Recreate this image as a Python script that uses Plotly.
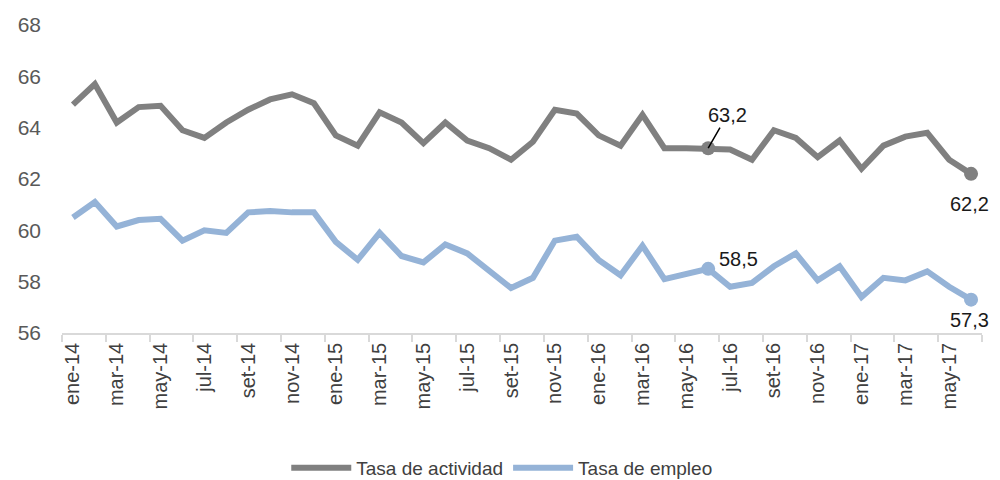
import plotly.graph_objects as go

months = ["ene", "feb", "mar", "abr", "may", "jun", "jul", "ago", "set", "oct", "nov", "dic"]
years = ["14", "15", "16", "17"]
categories = [f"{m}-{y}" for y in years for m in months][:42]

tasa_actividad = [64.9, 65.7, 64.2, 64.8, 64.85, 63.9, 63.6, 64.2, 64.7, 65.1, 65.3, 64.95,
                  63.7, 63.3, 64.6, 64.2, 63.4, 64.2, 63.5, 63.2, 62.75, 63.45, 64.7, 64.55,
                  63.7, 63.3, 64.5, 63.2, 63.2, 63.2, 63.15, 62.75, 63.9, 63.6, 62.85, 63.5,
                  62.4, 63.3, 63.65, 63.8, 62.75, 62.2]
tasa_empleo = [60.5, 61.1, 60.15, 60.4, 60.45, 59.6, 60.0, 59.9, 60.7, 60.75, 60.7, 60.7,
               59.55, 58.85, 59.9, 59.0, 58.75, 59.45, 59.1, 58.4, 57.75, 58.15, 59.6, 59.75,
               58.85, 58.25, 59.4, 58.1, 58.3, 58.5, 57.8, 57.95, 58.6, 59.1, 58.05, 58.6,
               57.4, 58.15, 58.05, 58.4, 57.8, 57.3]

gray = "#808080"
blue = "#95B3D7"
idx_mid = 29
idx_end = 41

fig = go.Figure()
fig.add_trace(go.Scatter(x=categories, y=tasa_actividad, mode="lines", name="Tasa de actividad",
                         line=dict(color=gray, width=6)))
fig.add_trace(go.Scatter(x=categories, y=tasa_empleo, mode="lines", name="Tasa de empleo",
                         line=dict(color=blue, width=6)))
fig.add_trace(go.Scatter(x=[categories[idx_mid], categories[idx_end]],
                         y=[tasa_actividad[idx_mid], tasa_actividad[idx_end]],
                         mode="markers", marker=dict(color=gray, size=14), showlegend=False, hoverinfo="skip"))
fig.add_trace(go.Scatter(x=[categories[idx_mid], categories[idx_end]],
                         y=[tasa_empleo[idx_mid], tasa_empleo[idx_end]],
                         mode="markers", marker=dict(color=blue, size=14), showlegend=False, hoverinfo="skip"))

lab_font = dict(family="Liberation Sans", size=20, color="#1a1a1a")
fig.add_annotation(x=categories[idx_mid], y=tasa_actividad[idx_mid], text="63,2",
                   showarrow=True, arrowhead=0, arrowwidth=1.5, arrowcolor="#000000",
                   ax=19, ay=-33, standoff=0, font=lab_font)
fig.add_annotation(x=categories[idx_end], y=tasa_actividad[idx_end], text="62,2",
                   showarrow=False, yshift=-30, xshift=-2, font=lab_font)
fig.add_annotation(x=categories[idx_mid], y=tasa_empleo[idx_mid], text="58,5",
                   showarrow=False, xshift=30, yshift=10, font=lab_font)
fig.add_annotation(x=categories[idx_end], y=tasa_empleo[idx_end], text="57,3",
                   showarrow=False, yshift=-20, xshift=-2, font=lab_font)

fig.update_layout(
    width=1000, height=480,
    margin=dict(l=54, r=26, t=17, b=155, autoexpand=False),
    plot_bgcolor="white", paper_bgcolor="white",
    showlegend=True,
    legend=dict(orientation="h", x=0.478, xanchor="center", y=-0.438, yanchor="middle",
                font=dict(family="Liberation Sans", size=19, color="#404040"),
                itemwidth=60),
    xaxis=dict(type="category", range=[-0.5, 41.5], dtick=2, tickson="boundaries",
               ticks="outside", ticklen=7, tickcolor="#d9d9d9", tickwidth=1.5,
               showline=True, linecolor="#d9d9d9", linewidth=1.5, showgrid=False,
               automargin=False,
               tickangle=-90, tickfont=dict(family="Liberation Sans", size=20, color="#404040")),
    yaxis=dict(range=[56, 68], dtick=2, showgrid=False, zeroline=False, showline=False,
               ticks="", ticklabelstandoff=20, automargin=False,
               tickfont=dict(family="Liberation Sans", size=21, color="#595959")),
)

fig.write_html("out.html")
